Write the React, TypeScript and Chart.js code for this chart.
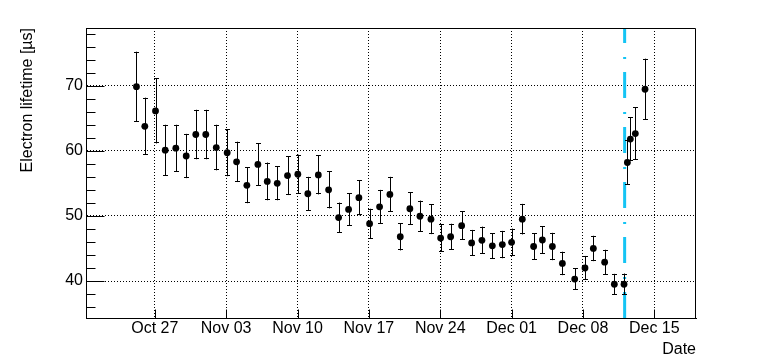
import React, { useEffect, useRef } from "react";
import { Chart, registerables } from "chart.js";

Chart.register(...registerables);

// Days since Oct 27 00:00
const dayOffsets = [
  -1.8, -0.98, 0.07, 1.02, 2.06, 3.08, 4.02, 5.0, 6.03, 7.1,
  8.02, 9.03, 10.11, 11.03, 12.01, 13.02, 14.03, 15.01, 16.04, 17.05,
  18.03, 19.01, 20.02, 21.07, 22.05, 23.06, 24.08, 25.02, 26.01, 27.09,
  28.04, 29.02, 30.1, 31.08, 32.09, 33.11, 34.09, 35.0, 36.05, 37.16,
  38.02, 39.0, 39.98, 41.19, 42.2, 43.02, 44.13, 45.08, 46.03, 46.36,
  46.65, 47.14, 48.09,
];
const lifetimes = [
  69.85, 63.76, 66.13, 60.1, 60.4, 59.2, 62.5, 62.5, 60.5, 59.7,
  58.3, 54.7, 57.9, 55.3, 55.0, 56.2, 56.4, 53.4, 56.3, 54.0,
  49.75, 51.0, 52.8, 48.8, 51.4, 53.3, 46.8, 51.1, 49.95, 49.5,
  46.6, 46.8, 48.5, 45.85, 46.25, 45.4, 45.6, 45.95, 49.5, 45.3,
  46.3, 45.3, 42.7, 40.3, 42.0, 45.0, 42.9, 39.5, 39.5, 58.2,
  61.8, 62.65, 69.45,
];
const lifetimeErrors = [
  5.37, 4.4, 5.0, 3.9, 3.6, 3.4, 3.8, 3.8, 3.5, 3.6,
  3.1, 2.75, 3.25, 2.9, 2.6, 3.0, 3.0, 2.6, 3.0, 2.85,
  2.3, 2.5, 2.7, 2.3, 2.6, 2.7, 2.1, 2.5, 2.4, 2.3,
  2.1, 2.0, 2.2, 2.0, 2.1, 1.95, 2.1, 2.1, 2.35, 2.0,
  2.1, 2.1, 1.8, 1.65, 1.85, 1.95, 1.9, 1.6, 1.65, 3.4,
  3.35, 4.0, 4.7,
];
const tickDays = [0, 7, 14, 21, 28, 35, 42, 49];
const tickLabels = ["Oct 27", "Nov 03", "Nov 10", "Nov 17", "Nov 24", "Dec 01", "Dec 08", "Dec 15"];
const yTicks = [40, 50, 60, 70];
const yMinorTicks = [36, 38, 42, 44, 46, 48, 52, 54, 56, 58, 62, 64, 66, 68, 72, 74, 76, 78];
const markerDay = 46.09;

const X_MIN = -6.75;
const X_MAX = 53.09;
const Y_MIN = 34.32;
const Y_MAX = 78.86;

const FONT = "'Liberation Sans', Arial, Helvetica, sans-serif";

const markerLinePlugin = {
  id: "markerLine",
  beforeDatasetsDraw(chart: any) {
    const { ctx, scales } = chart;
    const x = scales.x.getPixelForValue(markerDay);
    const yb = scales.y.getPixelForValue(Y_MIN);
    const yt = scales.y.getPixelForValue(Y_MAX);
    ctx.save();
    ctx.strokeStyle = "#14c4f4";
    ctx.lineWidth = 3;
    ctx.lineCap = "butt";
    ctx.setLineDash([26, 13, 2, 14]);
    ctx.beginPath();
    ctx.moveTo(x, yb);
    ctx.lineTo(x, yt);
    ctx.stroke();
    ctx.restore();
  },
};

const errorBarPlugin = {
  id: "errorBars",
  beforeDatasetsDraw(chart: any) {
    const { ctx, scales } = chart;
    ctx.save();
    ctx.strokeStyle = "#000";
    ctx.lineWidth = 1;
    ctx.setLineDash([]);
    for (let i = 0; i < dayOffsets.length; i++) {
      const x = Math.round(scales.x.getPixelForValue(dayOffsets[i])) + 0.5;
      const y1 = scales.y.getPixelForValue(lifetimes[i] + lifetimeErrors[i]);
      const y2 = scales.y.getPixelForValue(lifetimes[i] - lifetimeErrors[i]);
      ctx.beginPath();
      ctx.moveTo(x, y1);
      ctx.lineTo(x, y2);
      const c1 = Math.round(y1) + 0.5;
      const c2 = Math.round(y2) - 0.5;
      ctx.moveTo(x - 2.5, c1);
      ctx.lineTo(x + 2.5, c1);
      ctx.moveTo(x - 2.5, c2);
      ctx.lineTo(x + 2.5, c2);
      ctx.stroke();
    }
    ctx.restore();
  },
};

const framePlugin = {
  id: "rootFrame",
  afterDraw(chart: any) {
    const { ctx, scales, chartArea } = chart;
    const { left, right, top, bottom } = chartArea;
    const L = Math.round(left) + 0.5;
    const R = Math.round(right) - 0.5;
    const T = Math.round(top) + 0.5;
    const B = Math.round(bottom) + 0.5;
    ctx.save();
    ctx.strokeStyle = "#000";
    ctx.lineWidth = 1;
    ctx.setLineDash([]);
    ctx.beginPath();
    ctx.moveTo(L, T);
    ctx.lineTo(R, T);
    ctx.lineTo(R, B);
    ctx.lineTo(L, B);
    ctx.closePath();
    // y ticks (inward)
    for (const v of yTicks) {
      const y = Math.round(scales.y.getPixelForValue(v)) + 0.5;
      ctx.moveTo(L, y);
      ctx.lineTo(L + 18, y);
    }
    for (const v of yMinorTicks) {
      const y = Math.round(scales.y.getPixelForValue(v)) + 0.5;
      ctx.moveTo(L, y);
      ctx.lineTo(L + 9, y);
    }
    // x ticks (inward)
    for (const d of tickDays) {
      const x = Math.round(scales.x.getPixelForValue(d)) + 0.5;
      ctx.moveTo(x, B);
      ctx.lineTo(x, B - 9);
    }
    ctx.stroke();
    ctx.restore();
  },
};

export default function App() {
  const canvasRef = useRef<HTMLCanvasElement | null>(null);

  useEffect(() => {
    if (!canvasRef.current) return;
    const points = dayOffsets.map((d, i) => ({ x: d, y: lifetimes[i] }));
    const chart = new Chart(canvasRef.current, {
      type: "scatter",
      data: {
        datasets: [
          {
            label: "Electron lifetime",
            data: points,
            pointRadius: 3.4,
            pointBackgroundColor: "#000",
            pointBorderWidth: 0,
            pointBorderColor: "#000",
            showLine: false,
          },
        ],
      },
      options: {
        responsive: false,
        animation: false,
        events: [],
        layout: { padding: { top: 28, right: 66, bottom: 0, left: 0 } },
        plugins: {
          legend: { display: false },
          tooltip: { enabled: false },
          title: { display: false },
        },
        scales: {
          x: {
            type: "linear",
            min: X_MIN,
            max: X_MAX,
            afterBuildTicks: (scale: any) => {
              scale.ticks = tickDays.map((v) => ({ value: v }));
            },
            afterFit: (scale: any) => {
              scale.height = 45;
            },
            ticks: {
              autoSkip: false,
              maxRotation: 0,
              minRotation: 0,
              padding: 1,
              color: "#000",
              font: { family: FONT, size: 16 },
              callback: (value: any) => {
                const idx = tickDays.indexOf(Number(value));
                return idx >= 0 ? tickLabels[idx] : "";
              },
            },
            grid: { color: "#000", lineWidth: 1, drawTicks: false },
            border: { display: true, color: "#000", width: 1, dash: [1, 2] },
            title: {
              display: true,
              text: "Date",
              align: "end",
              color: "#000",
              font: { family: FONT, size: 16 },
              padding: { top: 0, bottom: 4 },
            },
          },
          y: {
            type: "linear",
            min: Y_MIN,
            max: Y_MAX,
            afterBuildTicks: (scale: any) => {
              scale.ticks = yTicks.map((v) => ({ value: v }));
            },
            afterFit: (scale: any) => {
              scale.width = 86;
            },
            ticks: {
              padding: 3,
              color: "#000",
              font: { family: FONT, size: 16 },
              callback: (value: any) => String(value),
            },
            grid: { color: "#000", lineWidth: 1, drawTicks: false },
            border: { display: true, color: "#000", width: 1, dash: [1, 2] },
            title: {
              display: true,
              text: "Electron lifetime [µs]",
              align: "end",
              color: "#000",
              font: { family: FONT, size: 16 },
              padding: { top: 18, bottom: 0 },
            },
          },
        },
      },
      plugins: [markerLinePlugin, errorBarPlugin, framePlugin],
    });
    return () => chart.destroy();
  }, []);

  return (
    <div style={{ position: "absolute", left: 0, top: 0, width: 762, height: 363, background: "#fff" }}>
      <canvas ref={canvasRef} width={762} height={363} style={{ display: "block", width: 762, height: 363 }} />
    </div>
  );
}
